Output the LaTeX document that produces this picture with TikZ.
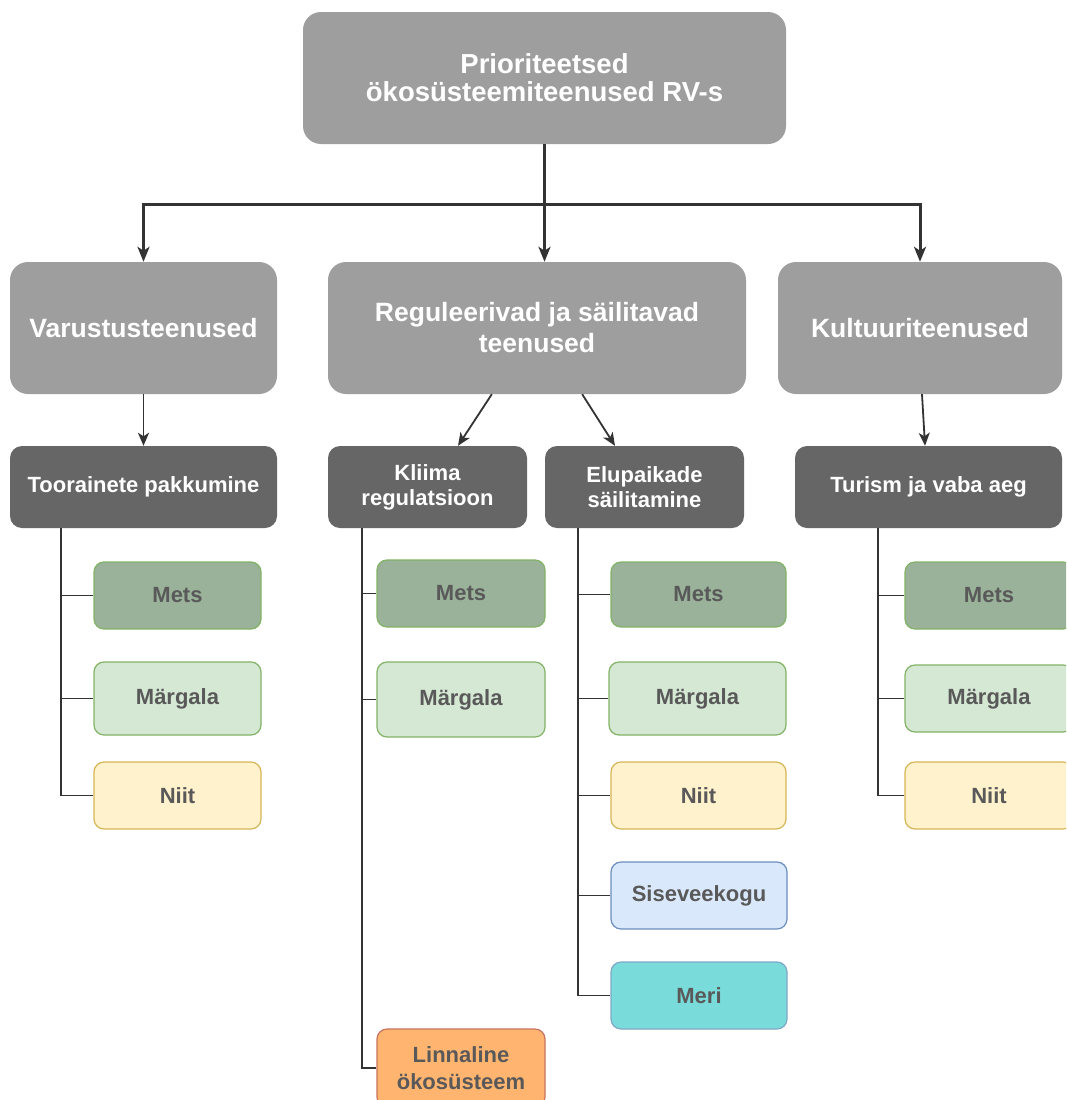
\documentclass[tikz,border=0pt]{standalone}
\usepackage{fontspec}
\setmainfont{Liberation Sans}
\usetikzlibrary{arrows.meta,calc}
\definecolor{topgray}{HTML}{9E9E9E}
\definecolor{darkgray}{HTML}{666666}
\definecolor{linec}{HTML}{333333}
\definecolor{leaftxt}{HTML}{595959}
\definecolor{metsfill}{HTML}{9AB29A}
\definecolor{greenstroke}{HTML}{82B366}
\definecolor{margfill}{HTML}{D5E8D4}
\definecolor{niitfill}{HTML}{FFF2CC}
\definecolor{niitstroke}{HTML}{D6B656}
\definecolor{sisefill}{HTML}{DAE8FC}
\definecolor{sisestroke}{HTML}{6C8EBF}
\definecolor{merifill}{HTML}{7ADCDA}
\definecolor{meristroke}{HTML}{7FA8C8}
\definecolor{linnfill}{HTML}{FFB570}
\definecolor{linnstroke}{HTML}{C8735F}
\tikzset{
  topbox/.style={fill=topgray, draw=none, rounded corners=18pt, text=white, font=\fontsize{27.5}{28}\selectfont\bfseries, align=center, inner sep=0pt},
  midbox/.style={fill=topgray, draw=none, rounded corners=18pt, text=white, font=\fontsize{26.5}{31}\selectfont\bfseries, align=center, inner sep=0pt},
  subbox/.style={fill=darkgray, draw=none, rounded corners=12pt, text=white, font=\fontsize{22}{25}\selectfont\bfseries, align=center, inner sep=0pt},
  leaf/.style={rounded corners=10pt, line width=1.2pt, text=leaftxt, font=\fontsize{22}{27}\selectfont\bfseries, align=center, inner sep=0pt},
  mets/.style={leaf, fill=metsfill, draw=greenstroke},
  marg/.style={leaf, fill=margfill, draw=greenstroke},
  niit/.style={leaf, fill=niitfill, draw=niitstroke},
  sise/.style={leaf, fill=sisefill, draw=sisestroke},
  meri/.style={leaf, fill=merifill, draw=meristroke},
  linn/.style={leaf, fill=linnfill, draw=linnstroke},
  bigarrow/.style={draw=linec, line width=3pt, -{Stealth[length=15pt,width=12pt,inset=4pt]}},
  smallarrow/.style={draw=linec, line width=1.8pt, -{Stealth[length=13pt,width=11pt,inset=3.5pt]}},
  trunk/.style={draw=linec, line width=1.8pt},
}
\begin{document}
\begin{tikzpicture}[x=1pt,y=-1pt]
\useasboundingbox (0,0) rectangle (1066,1100);
\fill[white] (0,0) rectangle (1066,1100);
\clip (0,0) rectangle (1066,1100);

% top
\node[topbox, minimum width=483pt, minimum height=132pt] (top) at (544.5,78) {Prioriteetsed\\ökosüsteemiteenused RV-s};

% level 2
\node[midbox, minimum width=267pt, minimum height=132pt] (var) at (143.5,328) {Varustusteenused};
\node[midbox, minimum width=418pt, minimum height=132pt] (reg) at (537,328) {Reguleerivad ja säilitavad\\teenused};
\node[midbox, minimum width=284pt, minimum height=132pt] (kul) at (920,328) {Kultuuriteenused};

% level 3
\node[subbox, minimum width=267pt, minimum height=82pt] (too) at (143.5,487) {Toorainete pakkumine};
\node[subbox, minimum width=199pt, minimum height=82pt] (kli) at (427.5,487) {Kliima\\regulatsioon};
\node[subbox, minimum width=199pt, minimum height=82pt] (elu) at (644.5,487) {Elupaikade\\säilitamine};
\node[subbox, minimum width=267pt, minimum height=82pt] (tur) at (928.5,487) {Turism ja vaba aeg};

% leaves column 1
\node[mets, minimum width=167pt, minimum height=67pt] (m1) at (177.5,595.5) {Mets};
\node[marg, minimum width=167pt, minimum height=73pt] (g1) at (177.5,698.5) {Märgala};
\node[niit, minimum width=167pt, minimum height=67pt] (n1) at (177.5,795.5) {Niit};

% leaves column 2
\node[mets, minimum width=168pt, minimum height=67pt] (m2) at (461,593.5) {Mets};
\node[marg, minimum width=168pt, minimum height=75pt] (g2) at (461,699.5) {Märgala};
\node[linn, minimum width=168pt, minimum height=78pt] (l2) at (461,1068) {Linnaline\\ökosüsteem};

% leaves column 3
\node[mets, minimum width=175pt, minimum height=65pt] (m3) at (698.5,594.5) {Mets};
\node[marg, minimum width=177pt, minimum height=73pt] (g3) at (697.5,698.5) {Märgala};
\node[niit, minimum width=175pt, minimum height=67pt] (n3) at (698.5,795.5) {Niit};
\node[sise, minimum width=176pt, minimum height=67pt] (s3) at (699,895.5) {Siseveekogu};
\node[meri, minimum width=176pt, minimum height=67pt] (r3) at (699,995.5) {Meri};

% leaves column 4
\node[mets, minimum width=168pt, minimum height=67pt] (m4) at (989,595.5) {Mets};
\node[marg, minimum width=168pt, minimum height=67pt] (g4) at (989,698.5) {Märgala};
\node[niit, minimum width=168pt, minimum height=67pt] (n4) at (989,795.5) {Niit};

% top connectors
\coordinate (bus) at (544.5,204);
\draw[draw=linec, line width=3pt] (top.south) -- (bus);
\draw[draw=linec, line width=3pt, line cap=rect] (var.north |- bus) -- (kul.north |- bus);
\draw[bigarrow] (var.north |- bus) -- (var.north);
\draw[bigarrow] (bus) -- (bus |- reg.north);
\draw[bigarrow] (kul.north |- bus) -- (kul.north);

% level2 -> level3
\draw[smallarrow] (var.south) -- (too.north);
\draw[smallarrow] ($(reg.south west)!0.392!(reg.south east)$) -- ($(kli.north west)!0.653!(kli.north east)$);
\draw[smallarrow] ($(reg.south west)!0.608!(reg.south east)$) -- ($(elu.north west)!0.352!(elu.north east)$);
\draw[smallarrow] ($(kul.south west)!0.507!(kul.south east)$) -- ($(tur.north west)!0.487!(tur.north east)$);

% trunks
\coordinate (t1) at (61,528);
\coordinate (t2) at (362,528);
\coordinate (t3) at (578,528);
\coordinate (t4) at (878,528);
\draw[trunk] (t1) |- (n1.west);
\draw[trunk] (t1) |- (m1.west);
\draw[trunk] (t1) |- (g1.west);
\draw[trunk] (t2) |- (l2.west);
\draw[trunk] (t2) |- (m2.west);
\draw[trunk] (t2) |- (g2.west);
\draw[trunk] (t3) |- (r3.west);
\draw[trunk] (t3) |- (m3.west);
\draw[trunk] (t3) |- (g3.west);
\draw[trunk] (t3) |- (n3.west);
\draw[trunk] (t3) |- (s3.west);
\draw[trunk] (t4) |- (n4.west);
\draw[trunk] (t4) |- (m4.west);
\draw[trunk] (t4) |- (g4.west);
\end{tikzpicture}
\end{document}
